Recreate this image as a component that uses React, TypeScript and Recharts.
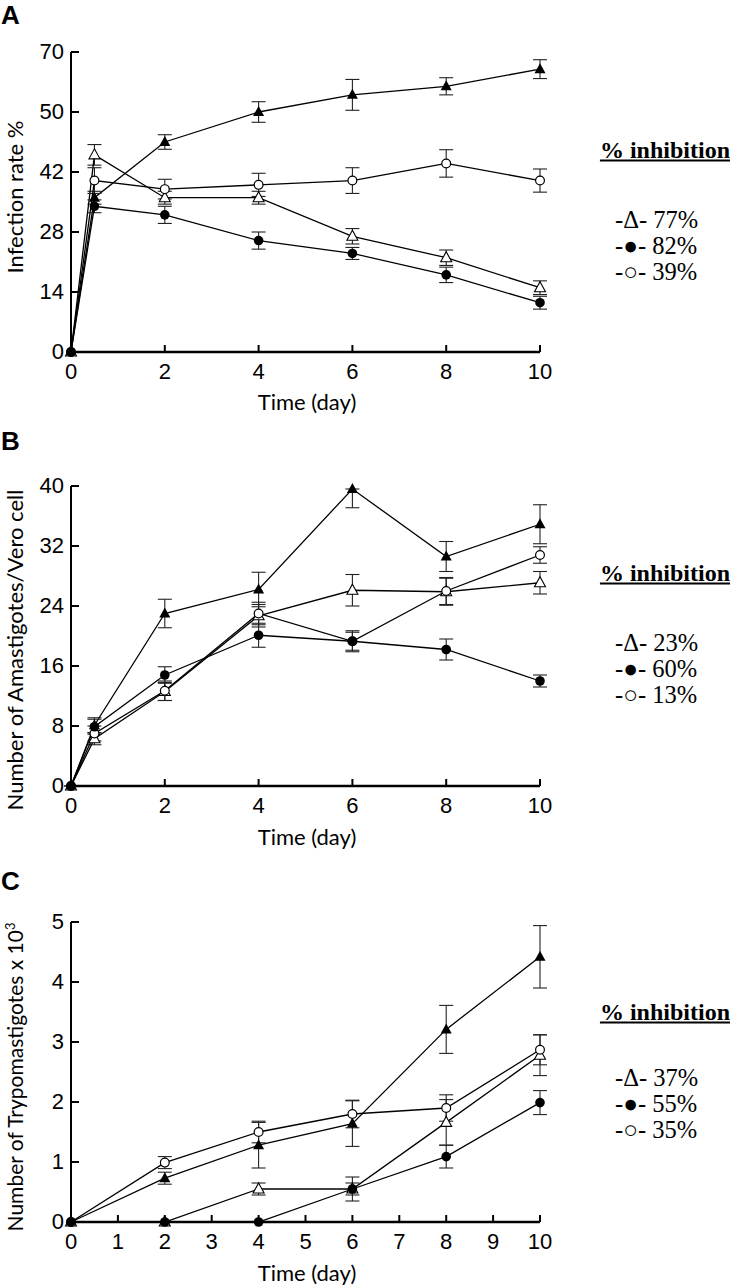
// @ts-nocheck
import React from "react";
import { LineChart, Line, XAxis, YAxis, ErrorBar } from "recharts";

// ---- data ----
const DAYS_AB = [0, 0.5, 2, 4, 6, 8, 10];
const DAYS_C = [0, 2, 4, 6, 8, 10];

// panel A: infection rate %
const A_CTRL = [0, 36, 49, 56, 60, 62, 66];
const A_CTRL_ERR = [0, 1.5, 1.7, 2.4, 3.6, 2.0, 2.2];
const A_TRI = [0, 46, 36, 36, 27, 22, 15];
const A_TRI_ERR = [0, 2.4, 1.5, 1.5, 1.8, 1.8, 1.6];
const A_DOT = [0, 34, 32, 26, 23, 18, 11.5];
const A_DOT_ERR = [0, 1.5, 2.0, 2.0, 1.4, 1.8, 1.5];
const A_CIRC = [0, 40, 38, 39, 40, 44, 40];
const A_CIRC_ERR = [0, 3.0, 2.3, 2.7, 3.0, 3.2, 2.7];
const A_YTICKS = [0, 14, 28, 42, 56, 70];
const A_YLABELS = ["0", "14", "28", "42", "50", "70"];
const A_LEGEND = ["77%", "82%", "39%"];

// panel B: amastigotes per Vero cell
const B_CTRL = [0, 8.1, 23, 26.2, 39.6, 30.6, 34.9];
const B_CTRL_ERR = [0, 1.0, 1.9, 2.3, 2.5, 2.0, 2.6];
// upper whisker of the day-6 point is cut off at the top of the axis
const B_CTRL_ERR_UP = [0, 1.0, 1.9, 2.3, 0, 2.0, 2.6];
const B_TRI = [0, 6.3, 12.6, 22.7, 26.1, 25.9, 27.1];
const B_TRI_ERR = [0, 0.8, 1.2, 1.5, 2.1, 1.8, 1.5];
const B_DOT = [0, 7.9, 14.8, 20.1, 19.3, 18.2, 14.0];
const B_DOT_ERR = [0, 1.0, 1.1, 1.6, 1.4, 1.4, 0.8];
const B_CIRC = [0, 7.0, 12.7, 23.0, 19.3, 26.0, 30.8];
const B_CIRC_ERR = [0, 1.0, 1.3, 1.5, 1.2, 1.8, 1.1];
const B_YTICKS = [0, 8, 16, 24, 32, 40];
const B_LEGEND = ["23%", "60%", "13%"];

// panel C: trypomastigotes x 10^3
const C_CTRL = [0, 0.73, 1.28, 1.64, 3.21, 4.42];
const C_CTRL_ERR = [0, 0.1, 0.38, 0.38, 0.4, 0.52];
const C_TRI = [0, 0, 0.55, 0.55, 1.66, 2.78];
const C_TRI_ERR = [0, 0, 0.1, 0.1, 0.38, 0.34];
const C_DOT = [0, 0, 0, 0.55, 1.09, 1.99];
const C_DOT_ERR = [0, 0, 0, 0.2, 0.19, 0.2];
const C_CIRC = [0, 0.99, 1.5, 1.8, 1.9, 2.87];
const C_CIRC_ERR = [0, 0.1, 0.18, 0.23, 0.22, 0.25];
const C_YTICKS = [0, 1, 2, 3, 4, 5];
const C_XTICKS = [0, 1, 2, 3, 4, 5, 6, 7, 8, 9, 10];
const C_LEGEND = ["37%", "55%", "35%"];

const AB_XTICKS = [0, 2, 4, 6, 8, 10];

const rows = (days, ctrl, ce, tri, te, dot, de, circ, cre, ceUp) =>
  days.map((d, i) => ({
    day: d,
    ctrl: ctrl[i], ctrlErr: ceUp ? [ce[i], ceUp[i]] : ce[i],
    tri: tri[i], triErr: te[i],
    dot: dot[i], dotErr: de[i],
    circ: circ[i], circErr: cre[i],
  }));

const TICK_FONT = "'Liberation Sans', Arial, sans-serif";
const TITLE_FONT = "Lato, 'Open Sans', sans-serif";
const SERIF = "'Liberation Serif', 'Times New Roman', serif";

// markers
const triPts = (cx, cy) => `${cx},${cy - 6} ${cx + 5.5},${cy + 4} ${cx - 5.5},${cy + 4}`;
const filledTri = (p) => <polygon key={p.key} points={triPts(p.cx, p.cy)} fill="#000" />;
const openTri = (p) => <polygon key={p.key} points={triPts(p.cx, p.cy)} fill="#fff" stroke="#000" strokeWidth={1.1} />;
const filledDot = (p) => <circle key={p.key} cx={p.cx} cy={p.cy} r={4.8} fill="#000" />;
const openCirc = (p) => <circle key={p.key} cx={p.cx} cy={p.cy} r={4.4} fill="#fff" stroke="#000" strokeWidth={1.2} />;

const XTick = ({ x, y, payload }) => (
  <g>
    <line x1={x} x2={x} y1={y} y2={y - 7} stroke="#000" strokeWidth={2} />
    <text x={x} y={y + 21} textAnchor="middle" dominantBaseline="middle" fontSize={22} fontFamily={TICK_FONT} fill="#000">
      {payload.value}
    </text>
  </g>
);

const makeYTick = (ticks, labels) => ({ x, y, payload }) => {
  const i = ticks.indexOf(payload.value);
  return (
    <g>
      <line x1={x} x2={x + 8} y1={y} y2={y} stroke="#000" strokeWidth={2} />
      <text x={x - 7} y={y + 1} textAnchor="end" dominantBaseline="middle" fontSize={22} fontFamily={TICK_FONT} fill="#000">
        {labels ? labels[i] : payload.value}
      </text>
    </g>
  );
};

function Panel({ data, top, height, plotTop, plotBottom, yDomain, yTicks, yLabels, xTicks }) {
  const mb = top + height - plotBottom - 30;
  const series = [
    ["ctrl", "ctrlErr", filledTri],
    ["tri", "triErr", openTri],
    ["circ", "circErr", openCirc],
    ["dot", "dotErr", filledDot],
  ];
  return (
    <div style={{ position: "absolute", left: 0, top }}>
      <LineChart width={733} height={height} data={data} margin={{ top: plotTop - top, right: 193, bottom: mb, left: 31 }}>
        <XAxis
          dataKey="day" type="number" domain={[0, 10]} ticks={xTicks} interval={0}
          height={30} tickSize={0} tickMargin={0} tickLine={false}
          axisLine={{ stroke: "#000", strokeWidth: 2.5 }} tick={XTick}
        />
        <YAxis
          type="number" domain={yDomain} ticks={yTicks} interval={0} width={40}
          tickSize={0} tickMargin={0} tickLine={false}
          axisLine={{ stroke: "#000", strokeWidth: 2 }} tick={makeYTick(yTicks, yLabels)}
        />
        {series.map(([k, e, shape]) => (
          <Line key={k} dataKey={k} stroke="#000" strokeWidth={1.3} dot={shape} activeDot={false} isAnimationActive={false}>
            <ErrorBar dataKey={e} direction="y" width={7} stroke="#222" strokeWidth={1.1} />
          </Line>
        ))}
      </LineChart>
    </div>
  );
}

const abs = (extra) => ({ position: "absolute", whiteSpace: "nowrap", ...extra });

function Letter({ ch, y }) {
  return <div style={abs({ left: 1, top: y, fontFamily: TICK_FONT, fontWeight: 700, fontSize: 26, lineHeight: "26px" })}>{ch}</div>;
}

function XTitle({ y }) {
  return (
    <div style={abs({ left: 307, top: y, transform: "translate(-50%,-50%)", fontFamily: TITLE_FONT, fontSize: 22 })}>Time (day)</div>
  );
}

function YTitle({ y, size = 22, children }) {
  return (
    <div style={abs({ left: 14, top: y, transform: "translate(-50%,-50%) rotate(-90deg)", fontFamily: TITLE_FONT, fontSize: size })}>
      {children}
    </div>
  );
}

const SYMS = ["-\u0394-", "-\u25CF-", "-\u25CB-"];

function Legend({ y, entries, ys }) {
  return (
    <>
      <div style={abs({ right: 3, top: y, transform: "translateY(-50%)", fontFamily: SERIF, fontWeight: 700, fontSize: 24, textDecoration: "underline" })}>
        % inhibition
      </div>
      {entries.map((t, i) => (
        <div key={t} style={abs({ left: 615, top: ys[i], transform: "translateY(-50%)", fontFamily: SERIF, fontSize: 24.5 })}>
          {SYMS[i]} {t}
        </div>
      ))}
    </>
  );
}

export default function App() {
  const dataA = rows(DAYS_AB, A_CTRL, A_CTRL_ERR, A_TRI, A_TRI_ERR, A_DOT, A_DOT_ERR, A_CIRC, A_CIRC_ERR);
  const dataB = rows(DAYS_AB, B_CTRL, B_CTRL_ERR, B_TRI, B_TRI_ERR, B_DOT, B_DOT_ERR, B_CIRC, B_CIRC_ERR, B_CTRL_ERR_UP);
  const dataC = rows(DAYS_C, C_CTRL, C_CTRL_ERR, C_TRI, C_TRI_ERR, C_DOT, C_DOT_ERR, C_CIRC, C_CIRC_ERR);
  return (
    <div style={{ position: "relative", width: 733, height: 1286, background: "#fff", overflow: "hidden" }}>
      <style>{"body{margin:0}"}</style>

      <Letter ch="A" y={2} />
      <Panel data={dataA} top={0} height={420} plotTop={52} plotBottom={352} yDomain={[0, 70]} yTicks={A_YTICKS} yLabels={A_YLABELS} xTicks={AB_XTICKS} />
      <XTitle y={401} />
      <YTitle y={197}>Infection rate %</YTitle>
      <Legend y={150} entries={A_LEGEND} ys={[220, 246, 272]} />

      <Letter ch="B" y={428} />
      <Panel data={dataB} top={420} height={430} plotTop={486} plotBottom={786} yDomain={[0, 40]} yTicks={B_YTICKS} xTicks={AB_XTICKS} />
      <XTitle y={836} />
      <YTitle y={650}>Number of Amastigotes/Vero cell</YTitle>
      <Legend y={573} entries={B_LEGEND} ys={[643, 669, 695]} />

      <Letter ch="C" y={868} />
      <Panel data={dataC} top={850} height={436} plotTop={922} plotBottom={1222} yDomain={[0, 5]} yTicks={C_YTICKS} xTicks={C_XTICKS} />
      <XTitle y={1272} />
      <YTitle y={1077} size={21}>
        Number of Trypomastigotes x 10<sup style={{ fontSize: 13, lineHeight: 0 }}>3</sup>
      </YTitle>
      <Legend y={1012} entries={C_LEGEND} ys={[1078, 1104, 1130]} />
    </div>
  );
}
